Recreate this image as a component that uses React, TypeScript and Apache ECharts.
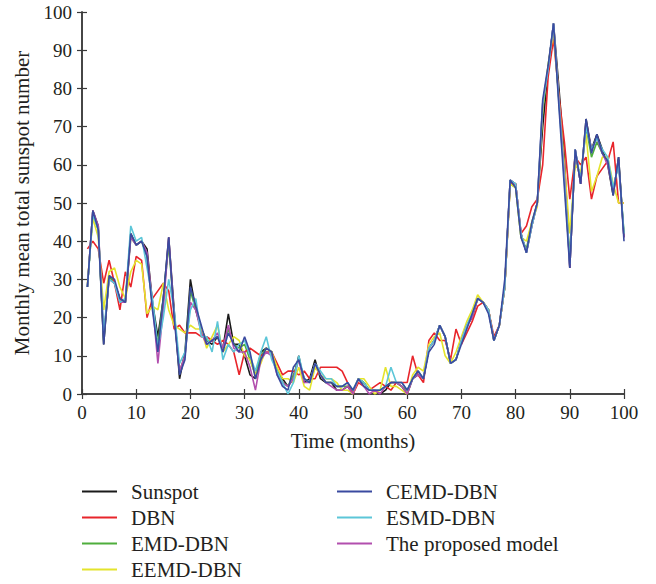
import React, { useEffect, useRef } from "react";
import * as echarts from "echarts";

const months: number[] = Array.from({ length: 100 }, (_, i) => i + 1);

const sunspot = [28,48,44,13,31,29,25,24,42,39,40,38,24,15,25,41,22,4,11,30,22,17,14,13,15,12,21,13,13,10,5,4,11,12,11,6,4,2,4,10,3,4,9,4,3,3,1,1,2,0,4,3,1,1,0,1,3,3,2,0,4,5,4,12,14,18,15,8,9,14,18,20,25,24,22,14,18,28,56,55,42,37,44,50,70,85,97,80,62,33,64,55,72,64,68,64,60,52,62,41];
const dbn = [38,40,38,29,35,29,22,32,28,36,35,20,25,27,29,27,17,18,16,16,16,15,15,14,13,14,13,11,5,11,12,11,10,11,11,8,5,6,6,5,6,4,4,7,7,7,7,6,3,0,3,2,1,2,3,2,1,3,3,3,10,5,3,14,16,14,14,9,17,13,16,19,23,24,22,15,18,28,55,55,42,44,49,51,60,83,93,78,66,51,62,60,62,51,57,59,61,66,50,50];
const emdDbn = [28,47,43,14,31,29,25,24,41,39,40,36,23,13,25,39,21,6,10,27,22,17,14,14,15,12,17,13,12,13,9,5,10,12,11,6,3,2,5,9,4,3,8,5,3,3,2,2,2,1,4,3,1,1,1,2,3,3,2,1,4,6,4,12,14,18,15,8,9,14,18,21,25,24,22,14,18,28,55,54,41,38,45,50,74,86,96,77,58,35,63,56,70,62,66,63,61,53,61,42];
const eemdDbn = [29,46,41,22,32,33,28,25,32,35,34,21,23,22,29,22,18,17,16,18,17,17,12,15,18,11,13,15,14,10,9,5,8,12,11,7,4,4,3,7,2,1,7,5,4,4,3,1,1,0,4,4,2,0,1,7,2,2,1,0,5,7,6,13,15,16,10,8,11,15,19,22,26,24,22,14,18,28,55,54,41,40,45,49,75,86,95,77,60,42,60,58,68,53,57,62,62,55,50,50];
const cemdDbn = [28,48,43,13,31,30,25,24,42,39,40,36,22,11,25,41,20,5,9,28,23,18,13,14,15,11,16,13,11,15,11,4,9,12,11,5,2,1,7,9,4,3,8,5,3,3,2,2,3,1,4,2,1,1,1,2,3,3,3,1,4,6,4,11,13,18,15,8,9,13,17,21,25,24,21,14,18,30,56,54,41,37,45,50,77,86,97,75,54,33,64,55,72,63,68,63,61,52,62,40];
const esmdDbn = [28,47,43,16,30,29,24,25,44,40,41,33,25,12,20,30,22,8,11,22,25,15,15,11,19,9,13,11,13,14,10,6,11,15,9,6,3,0,3,10,4,3,8,6,4,4,2,2,3,1,4,3,1,1,1,2,7,3,3,1,4,6,4,12,14,18,15,8,9,14,18,21,25,24,22,14,18,28,56,55,42,37,44,50,76,85,97,76,56,34,64,56,70,64,67,64,62,54,60,42];
const proposed = [28,48,44,15,30,29,24,24,41,39,40,37,24,8,22,41,21,6,10,24,22,16,13,14,16,12,18,12,11,11,7,1,9,11,10,5,3,2,4,9,3,3,8,5,3,2,1,1,2,0,4,2,0,1,0,2,3,3,2,0,4,5,4,12,14,18,15,8,9,14,18,20,25,24,22,14,18,28,56,55,42,37,44,50,76,85,97,77,58,33,64,55,71,64,67,63,60,53,61,41];

const seriesNames = ["Sunspot", "DBN", "EMD-DBN", "EEMD-DBN", "CEMD-DBN", "ESMD-DBN", "The proposed model"];
const seriesColors = ["#1a1a1a", "#e8252b", "#4fae3c", "#e4e42c", "#3a4aa0", "#5cc6d8", "#b24fae"];
const seriesValues = [sunspot, dbn, emdDbn, eemdDbn, cemdDbn, esmdDbn, proposed];
const drawOrder = [0, 2, 1, 3, 6, 5, 4];

const xTicks = [0, 10, 20, 30, 40, 50, 60, 70, 80, 90, 100];

const FONT = "Liberation Serif";
const TXT = "#231f20";

export default function App() {
  const ref = useRef<HTMLDivElement>(null);
  useEffect(() => {
    if (!ref.current) return;
    const chart = echarts.init(ref.current, null, { renderer: "svg" });
    const axisLine = { show: true, lineStyle: { color: "#3a3a3a", width: 1.5 } };
    const series = drawOrder.map((i) => ({
      name: seriesNames[i],
      type: "line",
      data: months.map((m, k) => [m, seriesValues[i][k]]),
      symbol: "none",
      lineStyle: { color: seriesColors[i], width: 1.6 },
      itemStyle: { color: seriesColors[i] },
      z: 2 + drawOrder.indexOf(i),
    }));
    const legendCommon = {
      orient: "vertical",
      icon: "rect",
      padding: 0,
      itemWidth: 35,
      itemHeight: 2,
      itemGap: 5,
      height: 110,
      textStyle: { fontFamily: FONT, fontSize: 21, color: TXT, padding: [0, 0, 0, 9], lineHeight: 20 },
    };
    chart.setOption({
      animation: false,
      backgroundColor: "#ffffff",
      grid: { left: 82, right: 32, top: 12, bottom: 190, containLabel: false },
      legend: [
        { ...legendCommon, left: 82, top: 481, data: ["Sunspot", "DBN", "EMD-DBN", "EEMD-DBN"] },
        { ...legendCommon, left: 337, top: 481, data: ["CEMD-DBN", "ESMD-DBN", "The proposed model"] },
      ],
      xAxis: [
        {
          type: "value",
          min: 0,
          max: 100,
          interval: 10,
          name: "Time (months)",
          nameLocation: "middle",
          nameGap: 36,
          nameTextStyle: { fontFamily: FONT, fontSize: 21, color: TXT },
          axisLine,
          axisTick: { show: true, inside: true, length: 5, lineStyle: { color: "#3a3a3a", width: 1.2 } },
          axisLabel: { fontFamily: FONT, fontSize: 19, color: TXT, margin: 9, formatter: (v: number) => (xTicks.includes(v) ? String(v) : "") },
          splitLine: { show: false },
        },
        {
          type: "value",
          position: "top",
          min: 0,
          max: 100,
          interval: 10,
          axisLine,
          axisTick: { show: true, inside: true, length: 5, lineStyle: { color: "#3a3a3a", width: 1.2 } },
          axisLabel: { show: false },
          splitLine: { show: false },
        },
      ],
      yAxis: [
        {
          type: "value",
          min: 0,
          max: 100,
          interval: 10,
          name: "Monthly mean total sunspot number",
          nameLocation: "middle",
          nameGap: 50,
          nameTextStyle: { fontFamily: FONT, fontSize: 21, color: TXT },
          axisLine,
          axisTick: { show: true, inside: true, length: 5, lineStyle: { color: "#3a3a3a", width: 1.2 } },
          axisLabel: { fontFamily: FONT, fontSize: 19, color: TXT, margin: 10 },
          splitLine: { show: false },
        },
        {
          type: "value",
          position: "right",
          min: 0,
          max: 100,
          interval: 10,
          axisLine,
          axisTick: { show: true, inside: true, length: 5, lineStyle: { color: "#3a3a3a", width: 1.2 } },
          axisLabel: { show: false },
          splitLine: { show: false },
        },
      ],
      series,
    });
    return () => chart.dispose();
  }, []);
  return <div ref={ref} style={{ width: 656, height: 584, position: "absolute", left: 0, top: 0 }} />;
}
